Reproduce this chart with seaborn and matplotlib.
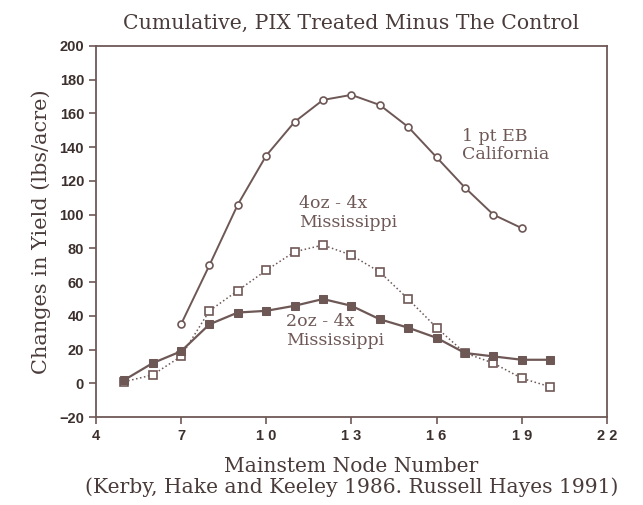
import matplotlib
matplotlib.use("Agg")
import matplotlib.pyplot as plt
import seaborn as sns

# values
ca_nodes = [7, 8, 9, 10, 11, 12, 13, 14, 15, 16, 17, 18, 19]
ca_yield = [35, 70, 106, 135, 155, 168, 171, 165, 152, 134, 116, 100, 92]

ms4_nodes = [5, 6, 7, 8, 9, 10, 11, 12, 13, 14, 15, 16, 17, 18, 19, 20]
ms4_yield = [1, 5, 16, 43, 55, 67, 78, 82, 76, 66, 50, 33, 18, 12, 3, -2]

ms2_nodes = [5, 6, 7, 8, 9, 10, 11, 12, 13, 14, 15, 16, 17, 18, 19, 20]
ms2_yield = [2, 12, 19, 35, 42, 43, 46, 50, 46, 38, 33, 27, 18, 16, 14, 14]

x_ticks = [4, 7, 10, 13, 16, 19, 22]
x_tick_labels = ["4", "7", "1 0", "1 3", "1 6", "1 9", "2 2"]
y_ticks = list(range(-20, 201, 20))

ink = "#6e5856"
text_ink = "#4a3c3a"
serif = ["DejaVu Serif"]

sns.set_style("white")
plt.rcParams["font.family"] = ["Liberation Sans", "DejaVu Sans"]

fig = plt.figure(figsize=(6.43, 5.05), dpi=100)
ax = fig.add_axes([0.149, 0.174, 0.795, 0.735])

sns.lineplot(x=ca_nodes, y=ca_yield, ax=ax, color=ink, lw=1.4,
             marker="o", markersize=5, markerfacecolor="white",
             markeredgecolor=ink, markeredgewidth=1.2)
sns.lineplot(x=ms4_nodes, y=ms4_yield, ax=ax, color=ink, lw=1.1,
             linestyle=":", marker="s", markersize=6, markerfacecolor="white",
             markeredgecolor=ink, markeredgewidth=1.2)
sns.lineplot(x=ms2_nodes, y=ms2_yield, ax=ax, color=ink, lw=1.6,
             marker="s", markersize=6, markerfacecolor=ink,
             markeredgecolor=ink)

ax.set_xlim(4, 22)
ax.set_ylim(-20, 200)
ax.set_xticks(x_ticks)
ax.set_xticklabels(x_tick_labels)
ax.set_yticks(y_ticks)
ax.tick_params(axis="both", direction="out", length=5, width=1.2,
               bottom=True, left=True, color=ink, labelcolor="#3c302e",
               labelsize=10.5)
for lab in ax.get_xticklabels() + ax.get_yticklabels():
    lab.set_fontweight("bold")
for sp in ax.spines.values():
    sp.set_color(ink)
    sp.set_linewidth(1.3)

ax.text(16.9, 141, "1 pt EB\nCalifornia", fontsize=12.5, color=ink,
        family=serif, va="center", linespacing=1.15)
ax.text(11.15, 101, "4oz - 4x\nMississippi", fontsize=12.5, color=ink,
        family=serif, va="center", linespacing=1.15)
ax.text(10.7, 31, "2oz - 4x\nMississippi", fontsize=12.5, color=ink,
        family=serif, va="center", linespacing=1.15)

ax.set_title("Cumulative, PIX Treated Minus The Control", fontsize=14.7,
             color=text_ink, family=serif, pad=12)
ax.set_ylabel("Changes in Yield (lbs/acre)", fontsize=15, color=text_ink,
              family=serif, labelpad=6)
ax.set_xlabel("Mainstem Node Number\n(Kerby, Hake and Keeley 1986. Russell Hayes 1991)",
              fontsize=14.6, color=text_ink, family=serif, labelpad=10,
              linespacing=1.12)

fig.savefig("out.png", dpi=100, facecolor="white")
